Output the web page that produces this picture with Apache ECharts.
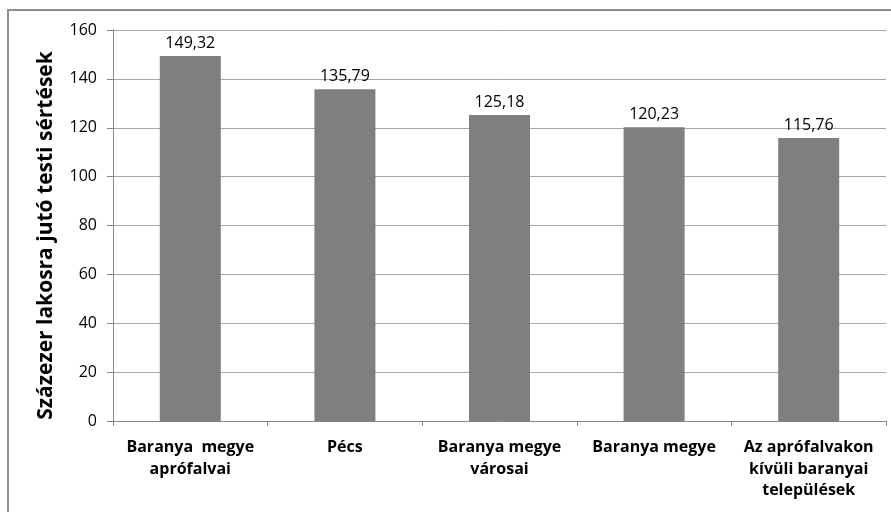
<!DOCTYPE html>
<html>
<head>
<meta charset="utf-8">
<script src="https://cdn.jsdelivr.net/npm/echarts@6/dist/echarts.min.js"></script>
<style>
html,body{margin:0;padding:0;background:#fff;}
#c{width:891px;height:512px;}
</style>
</head>
<body>
<div id="c"></div>
<script>
var categories = ["Baranya  megye\naprófalvai", "Pécs", "Baranya megye\nvárosai", "Baranya megye", "Az aprófalvakon\nkívüli baranyai\ntelepülések"];
var values = [149.32, 135.79, 125.18, 120.23, 115.76];
var yTicks = [0, 20, 40, 60, 80, 100, 120, 140, 160];
var yAxisTitle = "Százezer lakosra jutó testi sértések";

var font = "'Open Sans', 'Liberation Sans', Arial, sans-serif";
var chart = echarts.init(document.getElementById('c'), null, {renderer: 'canvas'});
chart.setOption({
  animation: false,
  backgroundColor: '#fff',
  graphic: [{
    type: 'rect', silent: true, z: 100,
    shape: {x: 8, y: 10, width: 900, height: 520},
    style: {fill: 'none', stroke: '#8f8f8f', lineWidth: 2}
  }],
  grid: {left: 113, right: 5, top: 30, bottom: 91, containLabel: false},
  xAxis: {
    type: 'category',
    data: categories,
    axisLine: {show: true, lineStyle: {color: '#868686', width: 1}},
    axisTick: {show: true, alignWithLabel: false, length: 5, lineStyle: {color: '#868686'}},
    axisLabel: {
      interval: 0, margin: 16, color: '#000', fontFamily: font, fontSize: 16, fontWeight: 'bold',
      lineHeight: 21.5, align: 'center'
    }
  },
  yAxis: {
    type: 'value',
    min: yTicks[0], max: yTicks[yTicks.length - 1], interval: 20,
    name: yAxisTitle,
    nameLocation: 'middle',
    nameRotate: 90,
    nameGap: 56,
    nameTextStyle: {color: '#000', fontFamily: font, fontSize: 21, fontWeight: 'bold', padding: [0, 20, 0, 0]},
    axisLine: {show: true, lineStyle: {color: '#868686', width: 1}},
    axisTick: {show: true, length: 6, lineStyle: {color: '#868686'}},
    axisLabel: {color: '#000', fontFamily: font, fontSize: 16, margin: 16},
    splitLine: {show: true, lineStyle: {color: '#a6a6a6', width: 1}}
  },
  series: [{
    type: 'bar',
    data: values,
    barWidth: 61,
    itemStyle: {color: '#7f7f7f'},
    label: {
      show: true, position: 'top', distance: 5, color: '#000', fontFamily: font, fontSize: 16,
      formatter: function (p) { return p.value.toFixed(2).replace('.', ','); }
    }
  }]
});
</script>
</body>
</html>
